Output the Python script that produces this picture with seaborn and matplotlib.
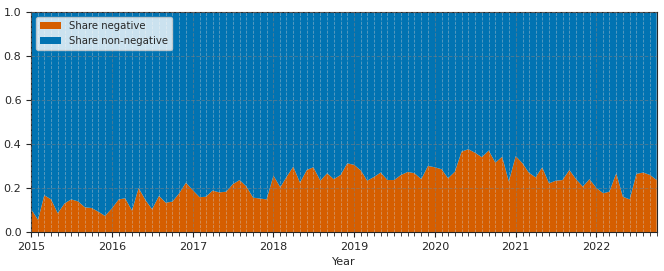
import pandas as pd
import numpy as np
import matplotlib
matplotlib.use("Agg")
import matplotlib.pyplot as plt
import matplotlib.dates as mdates
import seaborn as sns

# Monthly share of negative items, Jan 2015 - Oct 2022
start_month = "2015-01-01"
share_negative = [
    0.103, 0.055, 0.167, 0.148, 0.085, 0.130, 0.148, 0.139, 0.112, 0.109, 0.092, 0.073,  # 2015
    0.107, 0.148, 0.153, 0.097, 0.200, 0.145, 0.103, 0.164, 0.133, 0.138, 0.176, 0.224,  # 2016
    0.190, 0.158, 0.160, 0.188, 0.180, 0.183, 0.217, 0.236, 0.206, 0.156, 0.152, 0.148,  # 2017
    0.256, 0.203, 0.250, 0.297, 0.224, 0.282, 0.294, 0.233, 0.267, 0.240, 0.259, 0.312,  # 2018
    0.305, 0.279, 0.233, 0.250, 0.270, 0.236, 0.236, 0.259, 0.273, 0.267, 0.240, 0.300,  # 2019
    0.294, 0.285, 0.244, 0.274, 0.365, 0.376, 0.360, 0.340, 0.370, 0.315, 0.342, 0.229,  # 2020
    0.345, 0.312, 0.270, 0.248, 0.294, 0.221, 0.233, 0.236, 0.282, 0.240, 0.206, 0.240,  # 2021
    0.200, 0.176, 0.183, 0.267, 0.160, 0.148, 0.264, 0.270, 0.259, 0.236,                # 2022
]
series_labels = ["Share negative", "Share non-negative"]

df = pd.DataFrame({
    "month": pd.date_range(start_month, periods=len(share_negative), freq="MS"),
    "negative": share_negative,
})
df["non_negative"] = 1 - df["negative"]

sns.set_style("ticks")
plt.rcParams["font.family"] = ["DejaVu Sans"]
colors = sns.color_palette("colorblind")

fig = plt.figure(figsize=(6.64, 2.71), dpi=100)
ax = fig.add_axes([0.047, 0.144, 0.942, 0.812])

ax.stackplot(df["month"], df["negative"], df["non_negative"],
             labels=series_labels, colors=[colors[3], colors[0]],
             linewidth=0, edgecolor="none")

ax.set_xlim(df["month"].min(), df["month"].max())
ax.set_ylim(0, 1)
ax.xaxis.set_major_locator(mdates.YearLocator())
ax.xaxis.set_major_formatter(mdates.DateFormatter("%Y"))
ax.xaxis.set_minor_locator(mdates.MonthLocator())
ax.tick_params(axis="both", labelsize=8)
ax.tick_params(axis="x", which="minor", length=3)

ax.set_axisbelow(False)
ax.grid(True, which="major", linestyle="--", color="gray", alpha=0.55, linewidth=0.7)
ax.grid(True, which="minor", axis="x", linestyle="--", color="lightgray", alpha=0.45, linewidth=0.6)

ax.set_xlabel("Year", fontsize=8)
ax.legend(loc="upper left", fontsize=7.3)
for spine in ax.spines.values():
    spine.set_visible(True)

fig.savefig("out.png", dpi=100)
